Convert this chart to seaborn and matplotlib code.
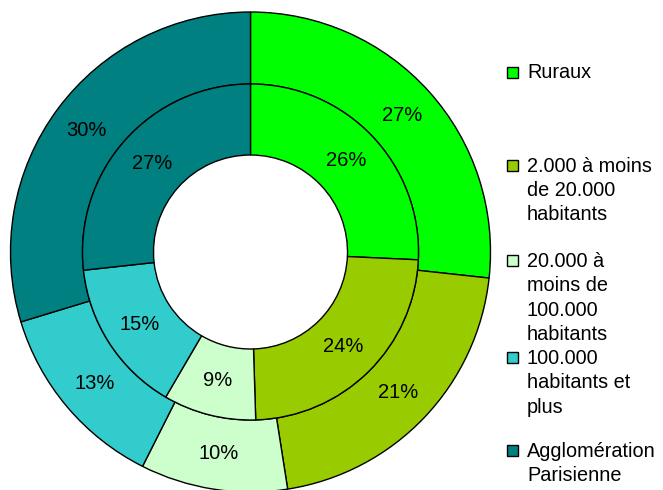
import matplotlib
matplotlib.use("Agg")
import matplotlib.pyplot as plt
from matplotlib.patches import Rectangle
import numpy as np
import seaborn as sns

# Categories and shares (%), outer ring and inner ring
categories = [
    "Ruraux",
    "2.000 à moins\nde 20.000\nhabitants",
    "20.000 à\nmoins de\n100.000\nhabitants",
    "100.000\nhabitants et\nplus",
    "Agglomération\nParisienne",
]
outer_values = [27, 21, 10, 13, 30]
inner_values = [26, 24, 9, 15, 27]
colors = ["#00FF00", "#99CC00", "#CCFFCC", "#33CCCC", "#008080"]

sns.set_theme(style="white")
plt.rcParams["font.family"] = ["Liberation Sans", "DejaVu Sans"]

W, H = 663, 490
fig = plt.figure(figsize=(W / 100, H / 100), dpi=100)
fig.patch.set_facecolor("white")

# Pie axes: centre at (250.5, 252) px, outer radius 240 px
cx, cy, R = 250.5, 252.0, 240.0
ax = fig.add_axes([(cx - R) / W, (H - cy - R) / H, 2 * R / W, 2 * R / H])
ax.axis("off")

r_mid = 168 / 240
r_hole = 97 / 240
edge = dict(edgecolor="black", linewidth=1.0)

outer_wedges, _ = ax.pie(outer_values, radius=1.0, colors=colors, startangle=90,
                         counterclock=False,
                         wedgeprops=dict(width=1.0 - r_mid, **edge))
inner_wedges, _ = ax.pie(inner_values, radius=r_mid, colors=colors, startangle=90,
                         counterclock=False,
                         wedgeprops=dict(width=r_mid - r_hole, **edge))
ax.set_xlim(-1, 1)
ax.set_ylim(-1, 1)
ax.set_aspect("equal")
for w in outer_wedges + inner_wedges:
    w.set_clip_on(False)


def label_ring(wedges, values, radius):
    for w, v in zip(wedges, values):
        ang = np.deg2rad((w.theta1 + w.theta2) / 2)
        ax.text(radius * np.cos(ang), radius * np.sin(ang), f"{v}%",
                ha="center", va="center", fontsize=14.5, color="black")


label_ring(outer_wedges, outer_values, (1.0 + r_mid) / 2)
label_ring(inner_wedges, inner_values, (r_mid + r_hole) / 2)

# Legend drawn by hand on the right
square_centres = [72.5, 165.5, 260.5, 357.5, 450.5]
line_gap = 24.5
sq = 11
for name, col, yc in zip(categories, colors, square_centres):
    fig.add_artist(Rectangle((507 / W, (H - yc - sq / 2) / H), sq / W, sq / H,
                             transform=fig.transFigure, facecolor=col,
                             edgecolor="black", linewidth=1.0))
    for i, line in enumerate(name.split("\n")):
        base = yc + 6.0 + i * line_gap
        fig.text(527 / W, (H - base) / H, line, ha="left", va="baseline",
                 fontsize=14.3, color="black")

fig.savefig("out.png", dpi=100, facecolor="white")
